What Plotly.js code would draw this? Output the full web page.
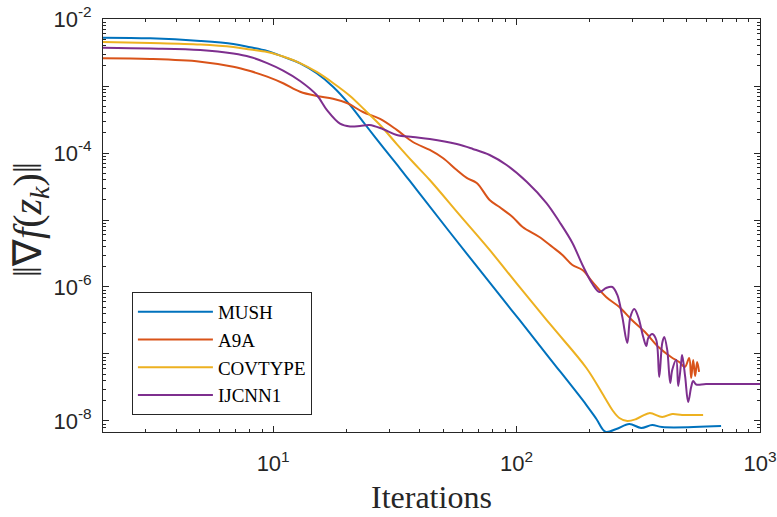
<!DOCTYPE html>
<html><head><meta charset="utf-8">
<script src="https://cdn.plot.ly/plotly-3.0.1.min.js"></script>
<style>html,body{margin:0;padding:0;background:#fff}</style>
</head><body><div id="chart" style="width:777px;height:517px"></div>
<script>
const seriesNames = ['MUSH', 'A9A', 'COVTYPE', 'IJCNN1'];
const seriesColors = ['#0072BD', '#D95319', '#EDB120', '#7E2F8E'];

const mushIter = [2, 3.13, 5.02, 6.86, 8.05, 9.45, 10.99, 12.9, 15.1, 17.62, 20.7, 23.8, 28.2, 33.1, 38.9, 53.1, 85.1, 102.8, 136.5, 193.6, 212.8, 231.7, 257, 290.5, 325, 360.6, 396, 692];
const mushGrad = [5.26e-3, 5.15e-3, 4.70e-3, 4.24e-3, 3.79e-3, 3.33e-3, 2.74e-3, 2.18e-3, 1.55e-3, 9.77e-4, 5.20e-4, 2.71e-4, 1.23e-4, 5.97e-5, 2.81e-5, 6.62e-6, 7.60e-7, 3.22e-7, 8.71e-8, 1.73e-8, 1.07e-8, 6.9e-9, 7.6e-9, 9.02e-9, 7.87e-9, 8.71e-9, 8.13e-9, 8.41e-9];

const a9aIter = [2, 3.13, 5.02, 6.86, 8.05, 9.45, 10.99, 12.9, 15.1, 17.62, 20.1, 23.4, 27.5, 32.2, 37.5, 44.0, 49.8, 56.8, 62.4, 68.6, 77.5, 85.1, 96.3, 105.9, 124.1, 140.4, 154.3, 169.6, 186.5, 205.0, 233.3, 264.3, 297.6, 339.8, 382.7, 431, 465.6, 491.4, 511.7, 521.5, 531.5, 541.6, 551.9, 562];
const a9aGrad = [2.59e-3, 2.53e-3, 2.31e-3, 1.94e-3, 1.67e-3, 1.38e-3, 1.10e-3, 8.22e-4, 7.10e-4, 6.46e-4, 5.57e-4, 4.09e-4, 3.22e-4, 2.21e-4, 1.46e-4, 1.11e-4, 8.42e-5, 5.57e-5, 4.24e-5, 3.57e-5, 1.99e-5, 1.56e-5, 1.11e-5, 7.87e-6, 5.57e-6, 3.95e-6, 3.01e-6, 2.13e-6, 1.79e-6, 1.19e-6, 7.10e-7, 5.03e-7, 3.22e-7, 2.06e-7, 1.27e-7, 9.02e-8, 7.60e-8, 6.40e-8, 8.71e-8, 4.38e-8, 8.13e-8, 4.70e-8, 7.60e-8, 5.39e-8];

const covIter = [2, 3.13, 5.02, 6.86, 8.05, 9.45, 10.99, 12.9, 15.1, 17.62, 20.7, 23.8, 27.5, 32.2, 37.5, 44.0, 58.3, 77.5, 102.8, 140.4, 193.6, 229.5, 247.4, 264.3, 285, 310.3, 351, 396.6, 435.9, 478.9, 583.9];
const covGrad = [4.54e-3, 4.39e-3, 4.16e-3, 3.82e-3, 3.51e-3, 3.22e-3, 2.75e-3, 2.20e-3, 1.62e-3, 1.11e-3, 7.10e-4, 4.38e-4, 2.62e-4, 1.36e-4, 7.34e-5, 3.95e-5, 1.19e-5, 3.57e-6, 1.0e-6, 2.53e-7, 6.18e-8, 2.28e-8, 1.46e-8, 1.11e-8, 1.0e-8, 1.07e-8, 1.31e-8, 1.15e-8, 1.27e-8, 1.23e-8, 1.23e-8];

const ijcIter = [2, 3.13, 5.02, 6.86, 8.05, 9.45, 10.99, 12.9, 15.1, 16.64, 18.82, 20.7, 22.73, 24.9, 28.2, 32.2, 37.5, 44.0, 56.8, 66.1, 77.5, 91.0, 110.3, 132.7, 150.1, 169.6, 186.5, 205.0, 218.9, 233.3, 247.4, 259.4, 271.9, 285.0, 293.3, 304.4, 316.2, 331.4, 341.0, 347.5, 361.0, 374.9, 385.6, 396.6, 404.2, 415.8, 427.7, 435.9, 452.7, 461.3, 474.6, 478.9, 492.8, 506.9, 521.5, 531.5, 546.7, 600, 800, 1000];
const ijcGrad = [3.73e-3, 3.63e-3, 3.44e-3, 3.05e-3, 2.71e-3, 2.20e-3, 1.70e-3, 1.19e-3, 7.34e-4, 4.38e-4, 2.75e-4, 2.49e-4, 2.53e-4, 2.62e-4, 2.28e-4, 1.86e-4, 1.73e-4, 1.62e-4, 1.36e-4, 1.15e-4, 9.33e-5, 6.62e-5, 3.69e-5, 1.79e-5, 9.33e-6, 4.54e-6, 2.13e-6, 1.11e-6, 8.41e-7, 9.66e-7, 1.0e-6, 7.60e-7, 3.56e-7, 1.46e-7, 3.56e-7, 4.70e-7, 3.56e-7, 1.79e-7, 1.32e-7, 1.73e-7, 1.99e-7, 1.62e-7, 4.54e-8, 1.46e-7, 1.79e-7, 1.15e-7, 3.69e-8, 5.77e-8, 8.13e-8, 3.33e-8, 7.60e-8, 9.66e-8, 4.54e-8, 1.92e-8, 3.21e-8, 3.95e-8, 3.50e-8, 3.56e-8, 3.56e-8, 3.56e-8];

const xTickVals = [10, 100, 1000];
const xTickText = ['10<sup>1</sup>', '10<sup>2</sup>', '10<sup>3</sup>'];
const yTickVals = [1e-8, 1e-7, 1e-6, 1e-5, 1e-4, 1e-3, 1e-2];
const yTickText = ['10<sup>-8</sup>', '', '10<sup>-6</sup>', '', '10<sup>-4</sup>', '', '10<sup>-2</sup>'];
const xTitle = 'Iterations';
const yTitle = '\u2016\u2207<i>f</i>(<i>z</i><sub><i>k</i></sub>)\u2016';

const xMinor = [];
[1, 10, 100].forEach(d => { for (let m = 2; m <= 9; m++) xMinor.push(m * d); });
const yMinor = [];
[1e-9, 1e-8, 1e-7, 1e-6, 1e-5, 1e-4, 1e-3].forEach(d => { for (let m = 2; m <= 9; m++) yMinor.push(m * d); });

const xs = [mushIter, a9aIter, covIter, ijcIter];
const ys = [mushGrad, a9aGrad, covGrad, ijcGrad];
const traces = seriesNames.map((n, i) => ({
  x: xs[i], y: ys[i], name: n, type: 'scatter', mode: 'lines',
  line: {color: seriesColors[i], width: 2, shape: 'spline', smoothing: 1.0}
}));

const axColor = '#262626';
const tickFont = {family: 'Liberation Sans, Arial, sans-serif', size: 22, color: axColor};
const serif = 'Liberation Serif, Times New Roman, serif';

const layout = {
  width: 777, height: 517,
  margin: {l: 103, r: 17, t: 19, b: 85},
  paper_bgcolor: '#fff', plot_bgcolor: '#fff',
  showlegend: true,
  legend: {
    x: 0.044, y: 0.339, xanchor: 'left', yanchor: 'top',
    bgcolor: '#fff', bordercolor: axColor, borderwidth: 1,
    font: {family: serif, size: 19, color: '#000'},
    itemwidth: 75, tracegroupgap: 0
  },
  xaxis: {
    type: 'log', range: [Math.log10(2), 3],
    tickmode: 'array', tickvals: xTickVals, ticktext: xTickText,
    ticks: 'inside', ticklen: 6, tickcolor: axColor, tickwidth: 1,
    ticklabelstandoff: 12, ticklabeloverflow: 'allow',
    showline: true, linecolor: axColor, linewidth: 1, mirror: 'ticks',
    showgrid: false, zeroline: false, tickfont: tickFont,
    minor: {tickmode: 'array', tickvals: xMinor, ticks: 'inside', ticklen: 3, tickcolor: axColor, showgrid: false}
  },
  yaxis: {
    type: 'log', range: [Math.log10(6.85e-9), -2],
    tickmode: 'array', tickvals: yTickVals, ticktext: yTickText,
    ticks: 'inside', ticklen: 6, tickcolor: axColor, tickwidth: 1,
    ticklabelstandoff: 6, ticklabeloverflow: 'allow',
    showline: true, linecolor: axColor, linewidth: 1, mirror: 'ticks',
    showgrid: false, zeroline: false, tickfont: tickFont,
    minor: {tickmode: 'array', tickvals: yMinor, ticks: 'inside', ticklen: 3, tickcolor: axColor, showgrid: false}
  },
  annotations: [
    {text: xTitle, xref: 'paper', yref: 'paper', x: 0.5, y: -0.157, xanchor: 'center', yanchor: 'middle',
     showarrow: false, font: {family: serif, size: 32, color: axColor}},
    {text: yTitle, xref: 'paper', yref: 'paper', x: -0.111, y: 0.513, xanchor: 'center', yanchor: 'middle',
     textangle: -90, showarrow: false, font: {family: serif, size: 40, color: axColor}}
  ]
};

Plotly.newPlot('chart', traces, layout, {displayModeBar: false, staticPlot: true});
</script>
</body></html>
